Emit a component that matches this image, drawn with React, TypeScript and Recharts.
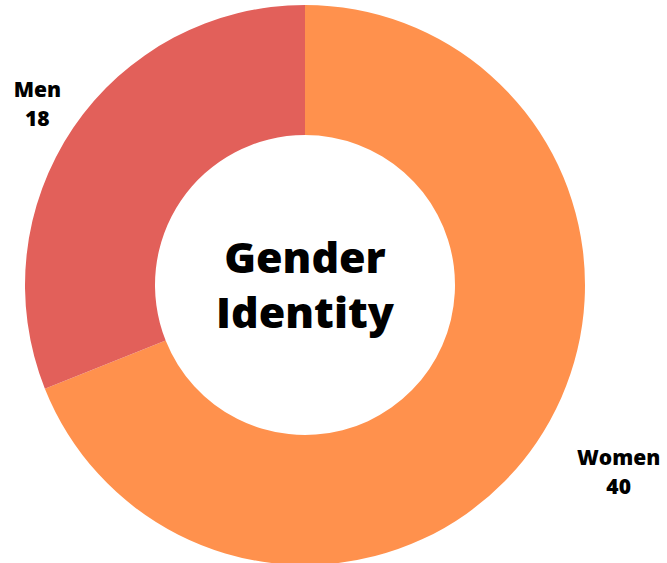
import { PieChart, Pie, Cell } from 'recharts'

const names = ['Women', 'Men']
const counts = [40, 18]
const colors = ['#FF914D', '#E2605A']

const data = names.map((name, i) => ({ name, value: counts[i] }))

const FONT = '"Open Sans", "DejaVu Sans", sans-serif'

// label offsets relative to the slice's outer label point
const renderLabel = (props: any) => {
  const { cx, cy, midAngle, name, value } = props
  const RAD = Math.PI / 180
  const r = 327
  let x = cx + r * Math.cos(-midAngle * RAD)
  const y = cy + r * Math.sin(-midAngle * RAD)
  if (name === 'Women') x += 43
  else x += 3
  return (
    <text x={x} y={y} textAnchor="middle" fontFamily={FONT} fontWeight={800} fontSize={21} fill="#000">
      <tspan x={x} dy={-4}>{name}</tspan>
      <tspan x={x} dy={29}>{value}</tspan>
    </text>
  )
}

export default function App() {
  return (
    <div style={{ position: 'absolute', left: 0, top: 0, background: '#fff' }}>
      <PieChart width={667} height={563} margin={{ top: 0, right: 0, bottom: 0, left: 0 }}>
        <Pie
          data={data}
          dataKey="value"
          nameKey="name"
          cx={305}
          cy={285}
          innerRadius={150}
          outerRadius={280}
          startAngle={90}
          endAngle={-270}
          stroke="none"
          label={renderLabel}
          labelLine={false}
          isAnimationActive={false}
        >
          {data.map((d, i) => (
            <Cell key={d.name} fill={colors[i]} />
          ))}
        </Pie>
        <text x={305} y={273} textAnchor="middle" fontFamily={FONT} fontWeight={800} fontSize={43} fill="#000">
          Gender
        </text>
        <text x={305} y={328} textAnchor="middle" fontFamily={FONT} fontWeight={800} fontSize={43} fill="#000">
          Identity
        </text>
      </PieChart>
    </div>
  )
}
